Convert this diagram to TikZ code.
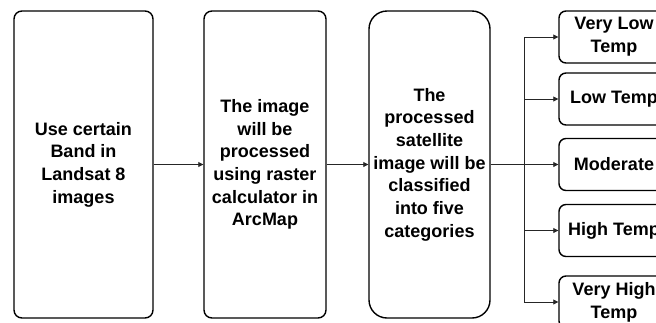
\documentclass[tikz,border=0pt]{standalone}
\usepackage{fontspec}
\setmainfont{Liberation Sans}
\usetikzlibrary{arrows.meta}
\begin{document}
\begin{tikzpicture}[x=1pt,y=-1pt,
  big/.style={draw=black, line width=1.4pt, rounded corners=8pt, minimum height=307pt, align=center, inner sep=0pt,
    font=\fontsize{18}{22.7}\selectfont\bfseries},
  small/.style={draw=black, line width=1.4pt, rounded corners=7pt, minimum width=110pt, minimum height=52pt, align=center, inner sep=0pt,
    font=\fontsize{18}{22.7}\selectfont\bfseries},
  arr/.style={draw=black!85, line width=0.8pt, -{Triangle[length=5pt,width=5pt]}},
  ln/.style={draw=black!85, line width=0.8pt}]
\useasboundingbox (0,0) rectangle (656,322);
\clip (0,0) rectangle (656,322);
\node[big, minimum width=139pt] (b1) at (83.5,164.5) {Use certain\\Band in\\Landsat 8\\images};
\node[big, minimum width=122pt] (b2) at (265,164.5) {The image\\will be\\processed\\using raster\\calculator in\\ArcMap};
\node[big, minimum width=121pt, rounded corners=18pt] (b3) at (429.5,164.5) {The\\processed\\satellite\\image will be\\classified\\into five\\categories};
\node[small] (s1) at (614,37) {Very Low\\Temp};
\node[small] (s2) at (614,99) {Low Temp};
\node[small] (s3) at (614,164.5) {Moderate};
\node[small] (s4) at (614,230.5) {High Temp};
\node[small] (s5) at (614,302) {Very High\\Temp};
\coordinate (br) at (524,164.5);
\draw[arr] (b1) -- (b2);
\draw[arr] (b2) -- (b3);
\draw[ln] (b3.east) -- (br);
\draw[arr] (br) |- (s1.west);
\draw[arr] (br) |- (s2.west);
\draw[arr] (br) -- (s3.west);
\draw[arr] (br) |- (s4.west);
\draw[arr] (br) |- (s5.west);
\end{tikzpicture}
\end{document}
